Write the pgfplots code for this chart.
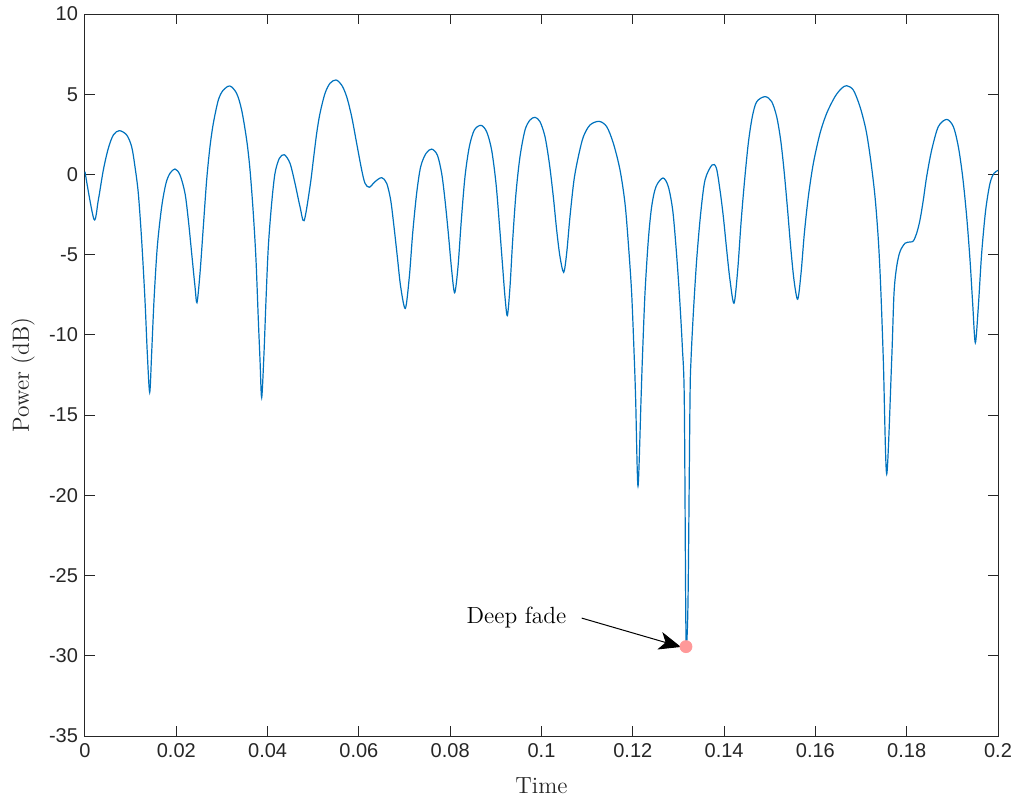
\documentclass[border=0pt]{standalone}
\usepackage{fontspec}
\usepackage{pgfplots}
\pgfplotsset{compat=1.18}
\usetikzlibrary{arrows.meta}
\newfontfamily\arialf{Liberation Sans}
\definecolor{mblue}{RGB}{0,114,189}
\definecolor{mgray}{RGB}{38,38,38}
\definecolor{mpink}{RGB}{255,153,153}
\pgfplotstableread{
x y
0 0.17
0.00197 -2.80
0.00292 -1.59
0.00402 0.28
0.00511 1.63
0.00621 2.46
0.00752 2.73
0.00913 2.46
0.01022 1.73
0.01095 0.48
0.01168 -1.18
0.01241 -4.09
0.01314 -7.83
0.01365 -11.15
0.01417 -13.58
0.01460 -11.15
0.01512 -7.83
0.01584 -4.50
0.01680 -2.01
0.01774 -0.55
0.01862 0.07
0.01972 0.34
0.02081 -0.03
0.02191 -1.18
0.02264 -2.84
0.02337 -4.92
0.02410 -7.00
0.02453 -7.99
0.02519 -6.17
0.02592 -3.26
0.02665 -0.35
0.02738 1.73
0.02811 3.18
0.02921 4.64
0.03030 5.26
0.03176 5.51
0.03322 5.05
0.03432 4.01
0.03542 2.14
0.03615 0.28
0.03687 -2.43
0.03746 -5.33
0.03797 -9.07
0.03834 -11.57
0.03870 -13.91
0.03921 -11.15
0.03965 -7.83
0.04016 -4.50
0.04089 -1.80
0.04162 0.07
0.04257 1.00
0.04367 1.23
0.04491 0.69
0.04600 -0.55
0.04710 -2.01
0.04800 -2.88
0.04929 -0.76
0.05002 0.90
0.05075 2.56
0.05148 3.81
0.05257 5.05
0.05367 5.68
0.05498 5.89
0.05623 5.57
0.05732 4.85
0.05842 3.60
0.05951 1.94
0.06061 0.28
0.06134 -0.55
0.06229 -0.80
0.06353 -0.45
0.06499 -0.20
0.06608 -0.55
0.06696 -1.59
0.06769 -3.26
0.06842 -5.13
0.06915 -7.00
0.07017 -8.35
0.07105 -6.37
0.07178 -3.67
0.07265 -1.18
0.07353 0.48
0.07470 1.31
0.07594 1.58
0.07718 1.21
0.07813 0.07
0.07886 -1.59
0.07959 -3.67
0.08032 -5.96
0.08098 -7.37
0.08171 -5.75
0.08244 -2.84
0.08324 -0.14
0.08419 1.73
0.08529 2.77
0.08675 3.06
0.08799 2.66
0.08908 1.52
0.09003 -0.55
0.09076 -3.05
0.09149 -5.75
0.09200 -7.62
0.09252 -8.80
0.09310 -7.00
0.09369 -4.09
0.09441 -1.18
0.09529 1.11
0.09639 2.77
0.09748 3.39
0.09858 3.56
0.09967 3.29
0.10077 2.35
0.10172 0.69
0.10259 -1.39
0.10332 -3.46
0.10405 -5.13
0.10486 -6.10
0.10551 -4.92
0.10624 -2.63
0.10712 -0.35
0.10807 1.11
0.10917 2.35
0.11062 3.08
0.11260 3.31
0.11428 2.98
0.11574 1.94
0.11720 0.28
0.11829 -1.80
0.11902 -4.29
0.11975 -7.41
0.12034 -11.57
0.12063 -14.06
0.12114 -19.42
0.12180 -14.06
0.12209 -11.57
0.12267 -7.41
0.12340 -4.09
0.12413 -2.01
0.12508 -0.76
0.12662 -0.22
0.12778 -0.76
0.12874 -2.22
0.12946 -4.50
0.13019 -7.41
0.13085 -10.74
0.13128 -14.06
0.13158 -26.52
0.13172 -29.40
0.13210 -26.52
0.13253 -14.06
0.13275 -11.57
0.13326 -8.66
0.13399 -5.33
0.13487 -2.43
0.13582 -0.35
0.13735 0.59
0.13830 0.40
0.13910 -0.97
0.13983 -2.63
0.14057 -4.71
0.14129 -6.58
0.14217 -8.03
0.14298 -5.96
0.14370 -3.05
0.14443 -0.55
0.14530 1.94
0.14618 3.60
0.14714 4.53
0.14896 4.85
0.15042 4.54
0.15152 3.60
0.15239 2.15
0.15312 0.28
0.15385 -2.01
0.15458 -4.50
0.15531 -6.58
0.15612 -7.78
0.15685 -6.17
0.15758 -3.67
0.15845 -1.39
0.15955 0.69
0.16101 2.56
0.16247 3.81
0.16429 4.85
0.16575 5.37
0.16685 5.53
0.16831 5.26
0.16977 4.22
0.17108 2.77
0.17211 0.90
0.17306 -1.39
0.17379 -4.09
0.17430 -7.00
0.17488 -11.57
0.17562 -18.67
0.17671 -11.57
0.17722 -7.41
0.17780 -5.75
0.17853 -4.81
0.17963 -4.29
0.18072 -4.21
0.18145 -4.15
0.18218 -3.67
0.18291 -2.84
0.18364 -1.59
0.18437 -0.14
0.18547 1.52
0.18693 2.98
0.18876 3.43
0.19022 2.98
0.19131 1.73
0.19226 -0.14
0.19314 -2.63
0.19387 -5.33
0.19445 -8.03
0.19503 -10.49
0.19569 -8.24
0.19642 -4.92
0.19730 -2.22
0.19825 -0.55
0.19912 0.07
0.20000 0.25
}\powerdata
\pgfplotstableread{
x y
0.13165 -29.43
}\fadedata
\begin{document}
\begin{tikzpicture}
\useasboundingbox (-42.5pt,-31.5pt) rectangle (466pt,368pt);
\begin{axis}[
  at={(0pt,0pt)}, anchor=south west,
  width=456.5pt, height=361pt, scale only axis,
  xmin=0, xmax=0.2, ymin=-35, ymax=10,
  xtick={0,0.02,0.04,0.06,0.08,0.1,0.12,0.14,0.16,0.18,0.2},
  xticklabels={0,0.02,0.04,0.06,0.08,0.1,0.12,0.14,0.16,0.18,0.2},
  ytick={-35,-30,-25,-20,-15,-10,-5,0,5,10},
  yticklabels={-35,-30,-25,-20,-15,-10,-5,0,5,10},
  tick align=inside,
  major tick length=5pt,
  tick style={mgray, line width=0.5pt},
  axis line style={mgray, line width=0.5pt},
  tick label style={font=\arialf\fontsize{10}{12}\selectfont, text=mgray},
  xlabel={Time}, ylabel={Power (dB)},
  label style={font=\fontsize{11.7}{14}\selectfont, text=mgray},
  xlabel style={at={(axis description cs:0.5,-0.069)}, anchor=center},
  ylabel style={at={(axis description cs:-0.068,0.5)}, anchor=center},
  clip=false,
]
\addplot[mblue, line width=0.6pt, mark=none, smooth, tension=0.5] table[x=x,y=y] {\powerdata};
\addplot[only marks, mark=*, mark size=3pt, mpink, mark options={draw=mpink, fill=mpink}] table[x=x,y=y] {\fadedata};
\draw[-{Stealth[length=11pt,width=9pt,inset=3pt]}, line width=0.5pt] (axis cs:0.1088,-27.65) -- (axis cs:0.13056,-29.45);
\node[anchor=base east, font=\fontsize{11.7}{14}\selectfont, inner sep=0pt] at (axis cs:0.10552,-27.96) {Deep fade};
\end{axis}
\end{tikzpicture}
\end{document}
